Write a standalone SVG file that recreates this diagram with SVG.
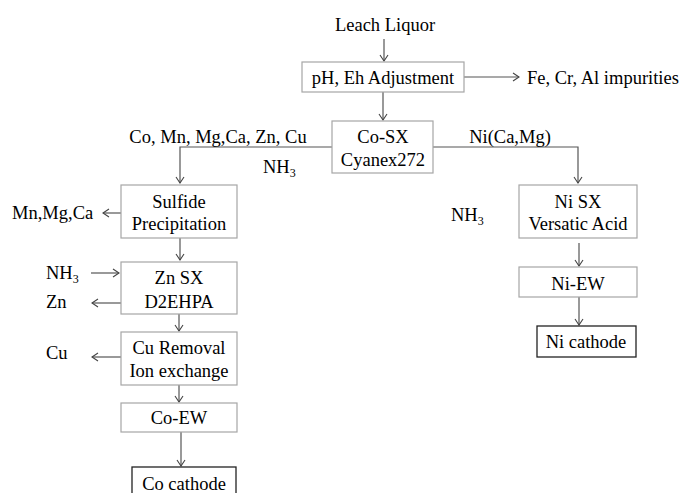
<svg xmlns="http://www.w3.org/2000/svg" width="681" height="493" viewBox="0 0 681 493">
<defs>
<marker id="ah" markerUnits="userSpaceOnUse" markerWidth="12" markerHeight="12" viewBox="-10 -6 12 12" refX="0" refY="0" orient="auto">
<path d="M-6,-4 L0,0 L-6,4" fill="none" stroke="#444" stroke-width="1.1"/>
</marker>
<style>
text{font-family:"Liberation Serif","Times New Roman",serif;font-size:18.5px;fill:#000}
.c{text-anchor:middle}
.box{fill:#fff;stroke:#a6a6a6;stroke-width:1.2}
.end{fill:#fff;stroke:#222;stroke-width:1.3}
.ar{fill:none;stroke:#555;stroke-width:1.2;marker-end:url(#ah)}
.sub{font-size:12px}
</style>
</defs>
<rect width="681" height="493" fill="#fff"/>
<g id="connectors">
<line class="ar" x1="384" y1="39" x2="384" y2="61"/>
<line class="ar" x1="464" y1="77" x2="519" y2="77"/>
<line class="ar" x1="383" y1="92" x2="383" y2="120"/>
<polyline class="ar" points="332,147 180,147 180,183"/>
<polyline class="ar" points="433,147 578,147 578,183"/>
<line class="ar" x1="121" y1="213" x2="103" y2="213"/>
<line class="ar" x1="180" y1="238" x2="180" y2="260"/>
<line class="ar" x1="91" y1="273" x2="119" y2="273"/>
<line class="ar" x1="121" y1="303" x2="92" y2="303"/>
<line class="ar" x1="179" y1="314" x2="179" y2="331"/>
<line class="ar" x1="121" y1="357" x2="92" y2="357"/>
<line class="ar" x1="179" y1="385" x2="179" y2="402"/>
<line class="ar" x1="181" y1="432" x2="181" y2="466"/>
<line class="ar" x1="579" y1="243" x2="579" y2="266"/>
<line class="ar" x1="579" y1="297" x2="579" y2="325"/>
</g>
<g id="leach"><text class="c" x="385" y="31">Leach Liquor</text></g>
<g id="ph"><rect class="box" x="302" y="62" width="162" height="30"/><text class="c" x="383" y="84">pH, Eh Adjustment</text></g>
<g id="impurities"><text x="527" y="84">Fe, Cr, Al impurities</text></g>
<g id="cosx"><rect class="box" x="332" y="121" width="101" height="52"/><text class="c" x="383" y="143">Co-SX</text><text class="c" x="383" y="166">Cyanex272</text></g>
<g id="colabel"><text class="c" x="218" y="143">Co, Mn, Mg,Ca, Zn, Cu</text></g>
<g id="nh3a"><text x="263" y="173">NH<tspan class="sub" dy="4">3</tspan></text></g>
<g id="nilabel"><text class="c" x="510" y="143">Ni(Ca,Mg)</text></g>
<g id="sulfide"><rect class="box" x="121" y="185" width="116" height="53"/><text class="c" x="179" y="208">Sulfide</text><text class="c" x="179" y="230">Precipitation</text></g>
<g id="mnmgca"><text x="12" y="219">Mn,Mg,Ca</text></g>
<g id="znsx"><rect class="box" x="121" y="262" width="116" height="52"/><text class="c" x="179" y="284">Zn SX</text><text class="c" x="179" y="308">D2EHPA</text></g>
<g id="nh3b"><text x="46" y="279">NH<tspan class="sub" dy="4">3</tspan></text></g>
<g id="zn"><text x="46" y="308">Zn</text></g>
<g id="cuion"><rect class="box" x="121" y="332" width="116" height="53"/><text class="c" x="179" y="354">Cu Removal</text><text class="c" x="179" y="377">Ion exchange</text></g>
<g id="cu"><text x="46" y="359">Cu</text></g>
<g id="coew"><rect class="box" x="121" y="403" width="116" height="29"/><text class="c" x="179" y="424">Co-EW</text></g>
<g id="cocathode"><rect class="end" x="132" y="467" width="104" height="32"/><text class="c" x="184" y="490">Co cathode</text></g>
<g id="nisx"><rect class="box" x="519" y="185" width="118" height="53"/><text class="c" x="578" y="208">Ni SX</text><text class="c" x="578" y="230">Versatic Acid</text></g>
<g id="nh3c"><text x="451" y="221">NH<tspan class="sub" dy="4">3</tspan></text></g>
<g id="niew"><rect class="box" x="519" y="267" width="118" height="30"/><text class="c" x="578" y="290">Ni-EW</text></g>
<g id="nicathode"><rect class="end" x="537" y="326" width="99" height="31"/><text class="c" x="586" y="348">Ni cathode</text></g>
</svg>
